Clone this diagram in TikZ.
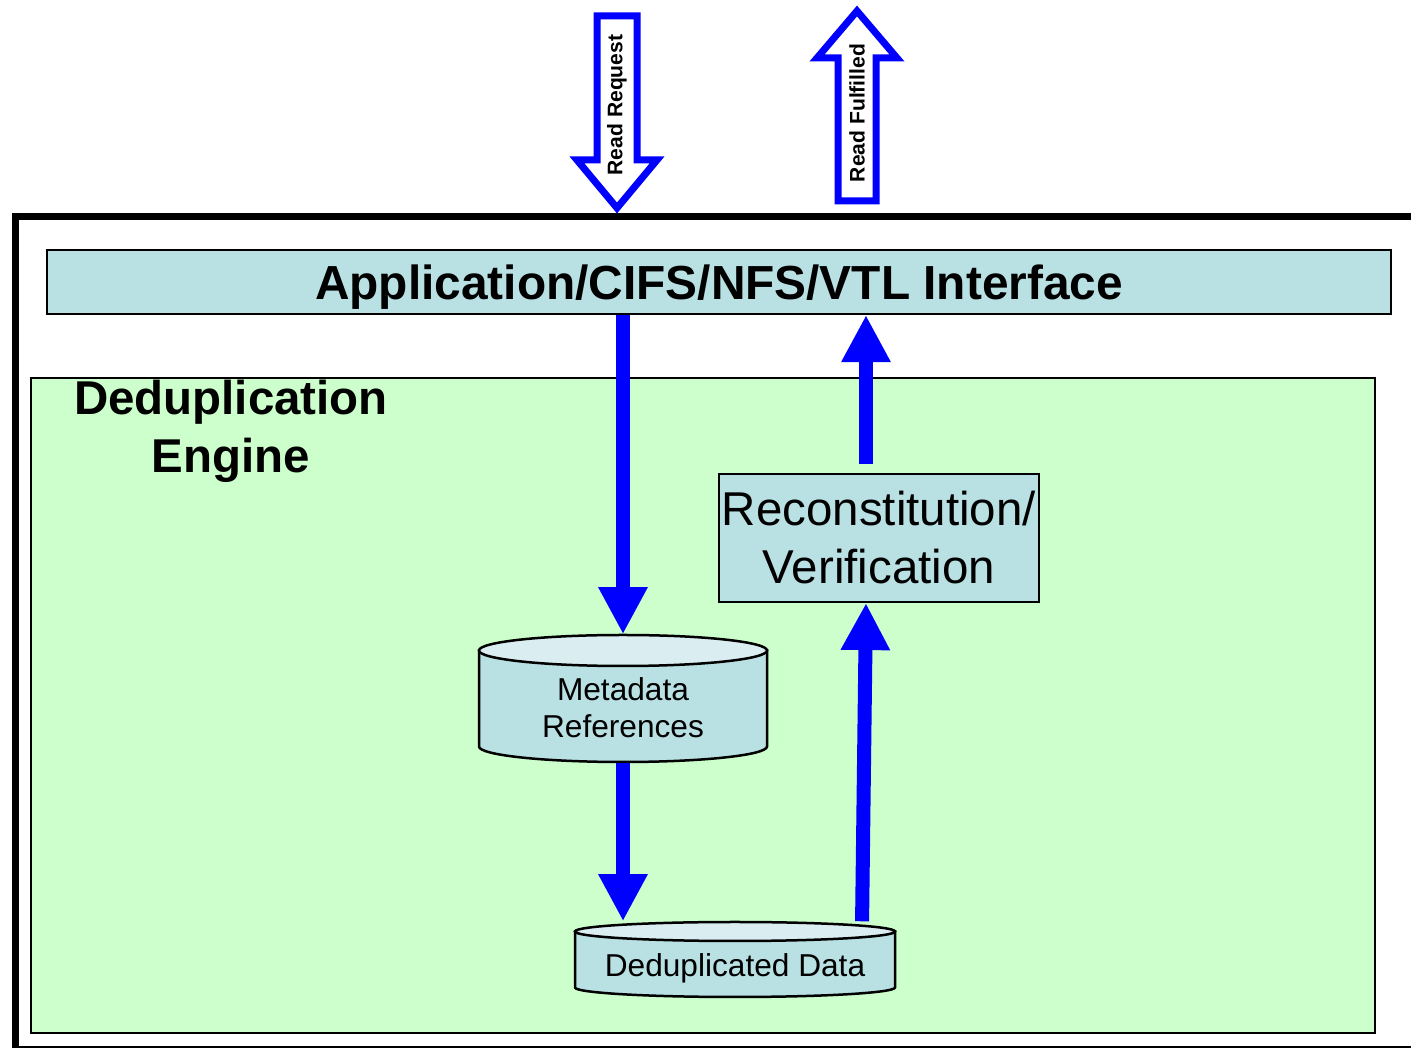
\documentclass[tikz,border=0pt]{standalone}
\usepackage{fontspec}
\setmainfont{Liberation Sans}
\usetikzlibrary{calc,arrows.meta}
\definecolor{boxblue}{RGB}{185,224,227}
\definecolor{dbtop}{RGB}{218,238,242}
\definecolor{enginegreen}{RGB}{204,255,204}
\def\dbcyl(#1)(#2:#3:#4){%
	\draw[line width=0.025cm, fill=boxblue] ($(#1)+(-#2,#4-#3)$) -- ($(#1)+(-#2,-#4+#3)$) arc (180:360:#2 and #3) -- ($(#1)+(#2,#4-#3)$) -- cycle;
	\draw[line width=0.025cm, fill=dbtop] ($(#1)+(0,#4-#3)$) ellipse (#2 and #3);}
\tikzset{
	flow/.style={draw=blue, line width=0.14cm, -{Triangle[width=0.46cm,length=0.47cm]}},
	hollow/.style={draw=blue, line width=0.07cm, fill=white, miter limit=10},
	bigbox/.style={draw, line width=0.02cm, fill=boxblue, inner sep=0pt},
	dbtext/.style={inner sep=0pt, align=center, font=\fontsize{9pt}{10.5pt}\selectfont}
}
\begin{document}
\begin{tikzpicture}[x=0.01cm, y=0.01cm]
			%%%%% START %%%%%
			\useasboundingbox (0,0) rectangle (1411,1048);
			\clip (0,0) rectangle (1411,1048);
			
			\draw[line width=0.065cm] (15.5,-1) rectangle (1415,831.5);
			
			% request / fulfilled
			\draw[hollow] (597,1032) -- (637,1032) -- (637,888) -- (657,888) -- (617,840) -- (577,888) -- (597,888) -- cycle;
			\node[rotate=90, font=\bfseries\fontsize{6pt}{7pt}\selectfont] (req) at (617,943) {Read Request};
			\draw[hollow] (838,847) -- (876,847) -- (876,990) -- (897,990) -- (857,1037) -- (817,990) -- (838,990) -- cycle;
			\node[rotate=90, font=\bfseries\fontsize{6pt}{7pt}\selectfont] (ful) at (857,935) {Read Fulfilled};
			
			\node[bigbox, minimum width=13.44cm, minimum height=0.64cm, text depth=0pt, font=\bfseries\fontsize{13.6pt}{16pt}\selectfont] (iface) at (719,766) {Application/CIFS/NFS/VTL Interface};
			
			\draw[line width=0.02cm, fill=enginegreen] (31,15) rectangle (1375,670);
			\node[align=center, font=\bfseries\fontsize{13.5pt}{16.5pt}\selectfont] (engine) at (231,617) {Deduplication\\Engine};
			
			\node[bigbox, minimum width=3.2cm, minimum height=1.28cm, align=center, font=\fontsize{13.5pt}{16.5pt}\selectfont] (recon) at (879,510) {Reconstitution/\\Verification};
			
			\dbcyl(623,349.5)(144:15.5:63.5);
			\node[dbtext, minimum width=2.88cm, minimum height=1.27cm, text height=0.77cm, text depth=0pt] (meta) at (623,349.5) {Metadata\\References};
			\dbcyl(735,88.5)(160:9.5:37.5);
			\node[dbtext, minimum width=3.2cm, minimum height=0.75cm, text height=0.41cm, text depth=0.067cm] (dedup) at (735,88.5) {Deduplicated Data};
			
			\draw[flow] (iface.south -| meta.north) -- (meta.north);
			\draw[flow] (meta.south) -- (dedup.north -| meta.south);
			\draw[flow] ([xshift=1.27cm]dedup.north) -- ([xshift=-0.13cm]recon.south);
			\draw[flow, shorten <=0.09cm] ([xshift=-0.13cm]recon.north) -- ([xshift=-0.13cm]recon.north |- iface.south);
			%%%%% END %%%%%
\end{tikzpicture}
\end{document}
